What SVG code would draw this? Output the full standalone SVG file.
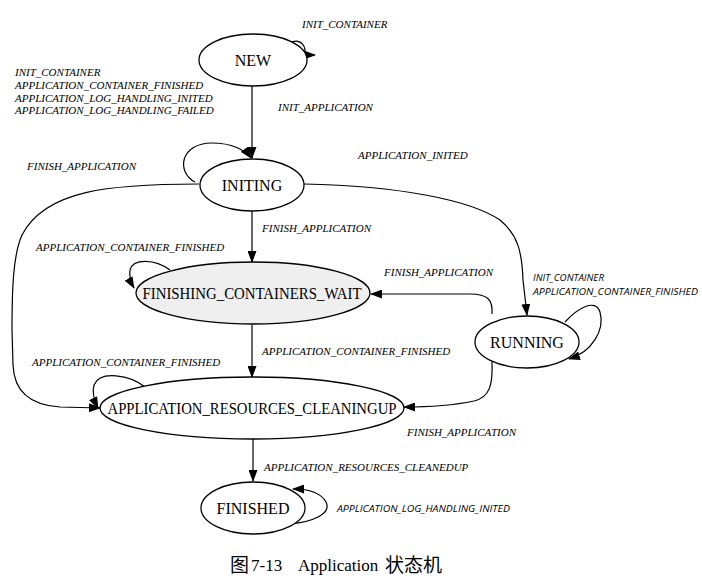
<svg xmlns="http://www.w3.org/2000/svg" width="702" height="586" viewBox="0 0 702 586">
<style>
.node{fill:#fff;stroke:#000;stroke-width:1.3}
.gray{fill:#efefef}
.nt{font-family:"Liberation Serif","Times New Roman",serif;font-size:16px;fill:#000;text-anchor:middle}
.el{font-family:"Liberation Serif","Times New Roman",serif;font-size:11px;font-style:italic;fill:#000}
.sl{font-family:"Open Sans","DejaVu Sans",sans-serif;font-size:9.5px;font-style:italic;fill:#000}
.cap{font-family:"Liberation Serif","Noto Sans CJK SC",serif;font-size:17px;fill:#000}
.capc{font-family:"Noto Sans CJK SC",sans-serif;font-size:19px;fill:#000}
.e{fill:none;stroke:#000;stroke-width:1.2}
</style>
<defs>
<marker id="ah" viewBox="0 0 12 9" markerWidth="12" markerHeight="9" refX="11" refY="4.5" orient="auto" markerUnits="userSpaceOnUse">
<path d="M0,0 L12,4.5 L0,9 z" fill="#000"/>
</marker>
</defs>
<rect width="702" height="586" fill="#fff"/>
<g id="connectors">
<path class="e" d="M252,86 L252,158" marker-end="url(#ah)"/>
<path class="e" d="M289,43 C302,37 307,48 304,55 L315,55" marker-end="url(#ah)"/>
<path class="e" d="M195,182 C176,172 180,143 212,143 C232,143 245,150 251,158" marker-end="url(#ah)"/>
<path class="e" d="M199,184 C110,184 45,190 22,235 C13,255 12,290 12,330 L13,365 C14,390 28,405 60,407 L100,408" marker-end="url(#ah)"/>
<path class="e" d="M252,211 L252,262" marker-end="url(#ah)"/>
<path class="e" d="M170,270 C155,259 133,258 130,270 C129,276 130,281 134,288" marker-end="url(#ah)"/>
<path class="e" d="M304,184 C400,186 470,200 500,220 C518,235 522,252 523,280 L527,315" marker-end="url(#ah)"/>
<path class="e" d="M565,322 C578,308 595,298 600,312 C605,330 592,352 569,359" marker-end="url(#ah)"/>
<path class="e" d="M492,314 C493,300 488,294 470,294 L371,294" marker-end="url(#ah)"/>
<path class="e" d="M252,325 L252,377" marker-end="url(#ah)"/>
<path class="e" d="M492,360 C493,385 490,397 474,401 C455,405 430,407 404,407" marker-end="url(#ah)"/>
<path class="e" d="M145,387 C130,375 100,370 94,385 C92,392 94,400 98,408" marker-end="url(#ah)"/>
<path class="e" d="M253,439 L253,481" marker-end="url(#ah)"/>
<path class="e" d="M290,524 C312,522 332,514 326,502 C321,493 310,489 293,489" marker-end="url(#ah)"/>
</g>
<g id="edge-labels">
<text class="el" x="302" y="28">INIT_CONTAINER</text>
<text class="el" x="15" y="76">INIT_CONTAINER</text>
<text class="el" x="15" y="89">APPLICATION_CONTAINER_FINISHED</text>
<text class="el" x="15" y="102">APPLICATION_LOG_HANDLING_INITED</text>
<text class="el" x="15" y="114">APPLICATION_LOG_HANDLING_FAILED</text>
<text class="el" x="278" y="111">INIT_APPLICATION</text>
<text class="el" x="358" y="159">APPLICATION_INITED</text>
<text class="el" x="27" y="170">FINISH_APPLICATION</text>
<text class="el" x="262" y="232">FINISH_APPLICATION</text>
<text class="el" x="36" y="251">APPLICATION_CONTAINER_FINISHED</text>
<text class="el" x="384" y="276">FINISH_APPLICATION</text>
<text class="sl" x="533" y="281" textLength="71" lengthAdjust="spacingAndGlyphs">INIT_CONTAINER</text>
<text class="sl" x="533" y="295" textLength="165" lengthAdjust="spacingAndGlyphs">APPLICATION_CONTAINER_FINISHED</text>
<text class="el" x="262" y="355">APPLICATION_CONTAINER_FINISHED</text>
<text class="el" x="32" y="366">APPLICATION_CONTAINER_FINISHED</text>
<text class="el" x="407" y="436">FINISH_APPLICATION</text>
<text class="el" x="264" y="471">APPLICATION_RESOURCES_CLEANEDUP</text>
<text class="sl" x="337" y="512" textLength="173" lengthAdjust="spacingAndGlyphs">APPLICATION_LOG_HANDLING_INITED</text>
</g>
<g id="NEW"><ellipse class="node" cx="253" cy="60" rx="54" ry="26"/><text class="nt" x="253" y="66">NEW</text></g>
<g id="INITING"><ellipse class="node" cx="252" cy="185" rx="52" ry="26"/><text class="nt" x="252" y="191">INITING</text></g>
<g id="FINISHING_CONTAINERS_WAIT"><ellipse class="node gray" cx="253" cy="293" rx="117" ry="31"/><text class="nt" x="252" y="299" textLength="219" lengthAdjust="spacingAndGlyphs">FINISHING_CONTAINERS_WAIT</text></g>
<g id="RUNNING"><ellipse class="node" cx="527" cy="342" rx="52" ry="26"/><text class="nt" x="527" y="348">RUNNING</text></g>
<g id="APPLICATION_RESOURCES_CLEANINGUP"><ellipse class="node" cx="252" cy="408" rx="152" ry="31"/><text class="nt" x="252" y="414" textLength="289" lengthAdjust="spacingAndGlyphs">APPLICATION_RESOURCES_CLEANINGUP</text></g>
<g id="FINISHED"><ellipse class="node" cx="253" cy="508" rx="52" ry="26"/><text class="nt" x="253" y="514">FINISHED</text></g>
<g id="caption">
<text class="capc" x="230" y="572">图</text>
<text class="cap" x="251" y="571">7-13</text>
<text class="cap" x="298" y="571">Application</text>
<text class="capc" x="385" y="572">状态机</text>
</g>
</svg>
